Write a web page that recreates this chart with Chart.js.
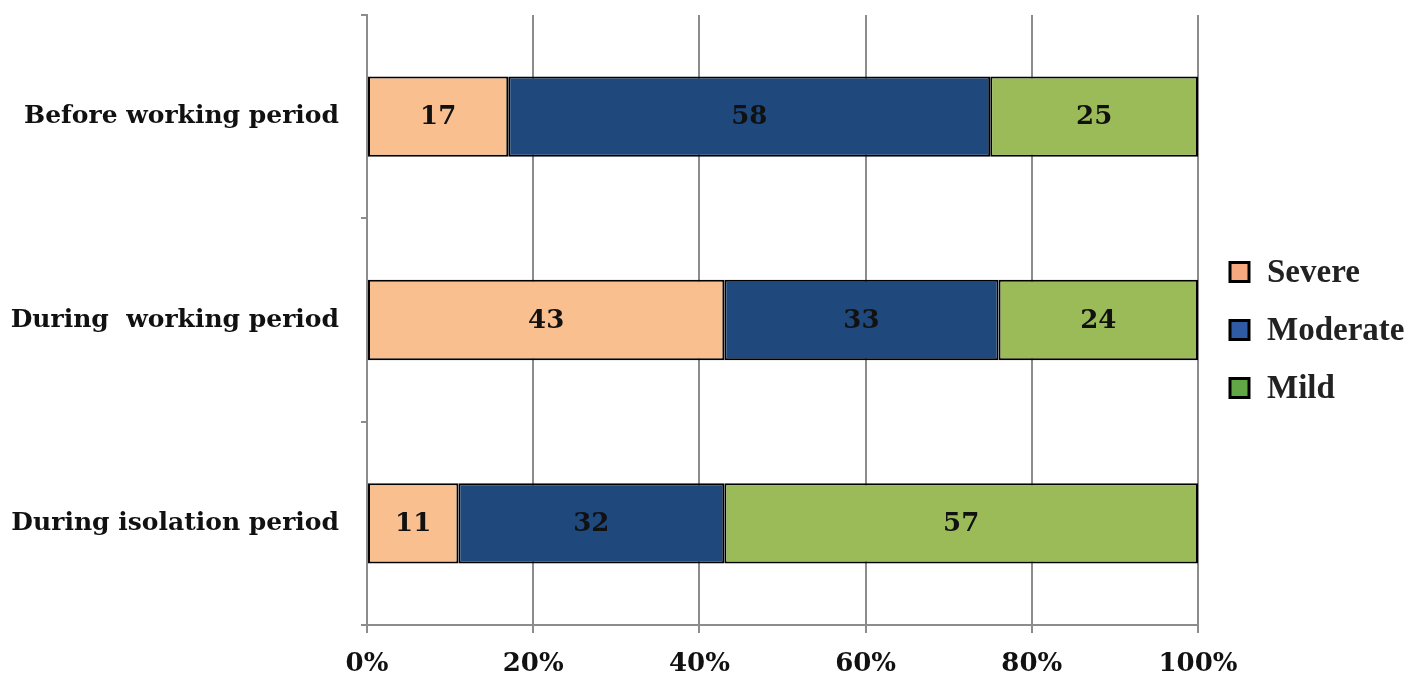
<!DOCTYPE html>
<html>
<head>
<meta charset="utf-8">
<script src="https://cdn.jsdelivr.net/npm/chart.js@4"></script>
<style>
html,body{margin:0;padding:0;background:#fff;}
#c{display:block;}
</style>
</head>
<body>
<canvas id="c" width="1417" height="683"></canvas>
<script>
const categories = ["Before working period", "During  working period", "During isolation period"];
const severe = [17, 43, 11];
const moderate = [58, 33, 32];
const mild = [25, 24, 57];
const seriesNames = ["Severe", "Moderate", "Mild"];
const xTicks = [0, 20, 40, 60, 80, 100];

const fillColors = ["#F9BF8F", "#1F497D", "#9BBB59"];
const legendColors = ["#F6A97F", "#2F5BA5", "#62A745"];

const yFont = {family: "'DejaVu Serif', serif", weight: "bold", size: 25};
const xFont = {family: "'DejaVu Serif', serif", weight: "bold", size: 26};

const valueLabels = {
  id: 'valueLabels',
  afterDatasetsDraw(chart) {
    const ctx = chart.ctx;
    ctx.save();
    ctx.font = "bold 26px 'DejaVu Serif', serif";
    ctx.fillStyle = "#111";
    ctx.textAlign = "center";
    ctx.textBaseline = "middle";
    chart.data.datasets.forEach((ds, i) => {
      const meta = chart.getDatasetMeta(i);
      meta.data.forEach((el, j) => {
        const cx = (el.x + el.base) / 2;
        ctx.fillText(String(ds.data[j]), cx, el.y + 1);
      });
    });
    ctx.restore();
  }
};

const customLegend = {
  id: 'customLegend',
  afterDraw(chart) {
    const ctx = chart.ctx;
    ctx.save();
    const x0 = 1230, y0 = 272, step = 58, box = 19;
    ctx.font = "bold 33px 'Liberation Serif', 'Times New Roman', serif";
    ctx.textBaseline = "middle";
    ctx.textAlign = "left";
    seriesNames.forEach((name, i) => {
      const y = y0 + i * step;
      ctx.fillStyle = legendColors[i];
      ctx.fillRect(x0, y - box / 2, box, box);
      ctx.lineWidth = 3;
      ctx.strokeStyle = "#000";
      ctx.strokeRect(x0, y - box / 2, box, box);
      ctx.fillStyle = "#222";
      ctx.fillText(name, 1267, y + 1);
    });
    ctx.restore();
  }
};

new Chart(document.getElementById('c'), {
  type: 'bar',
  data: {
    labels: categories,
    datasets: [severe, moderate, mild].map((d, i) => ({
      label: seriesNames[i],
      data: d,
      backgroundColor: fillColors[i],
      borderColor: "#000",
      borderWidth: 2,
      borderSkipped: false,
      categoryPercentage: 1,
      barPercentage: 0.395
    }))
  },
  options: {
    indexAxis: 'y',
    responsive: false,
    animation: false,
    devicePixelRatio: 1,
    layout: {padding: {left: 7, right: 219, top: 15, bottom: 0}},
    plugins: {legend: {display: false}, tooltip: {enabled: false}},
    scales: {
      x: {
        stacked: true,
        min: 0, max: 100,
        afterBuildTicks(scale) { scale.ticks = xTicks.map(v => ({value: v})); },
        afterFit(scale) { scale.height = 58; },
        ticks: {
          callback: v => v + "%",
          font: xFont,
          color: "#111",
          padding: 16
        },
        grid: {color: "#8c8c8c", lineWidth: 2, tickLength: 8, drawTicks: true},
        border: {color: "#8c8c8c", width: 2}
      },
      y: {
        stacked: true,
        afterFit(scale) { scale.width = 360; scale.paddingTop = 0; scale.paddingBottom = 0; },
        ticks: {font: yFont, color: "#111", padding: 22},
        grid: {offset: true, drawOnChartArea: false, color: "#8c8c8c", lineWidth: 2, tickLength: 6},
        border: {color: "#8c8c8c", width: 2}
      }
    }
  },
  plugins: [valueLabels, customLegend]
});
</script>
</body>
</html>
